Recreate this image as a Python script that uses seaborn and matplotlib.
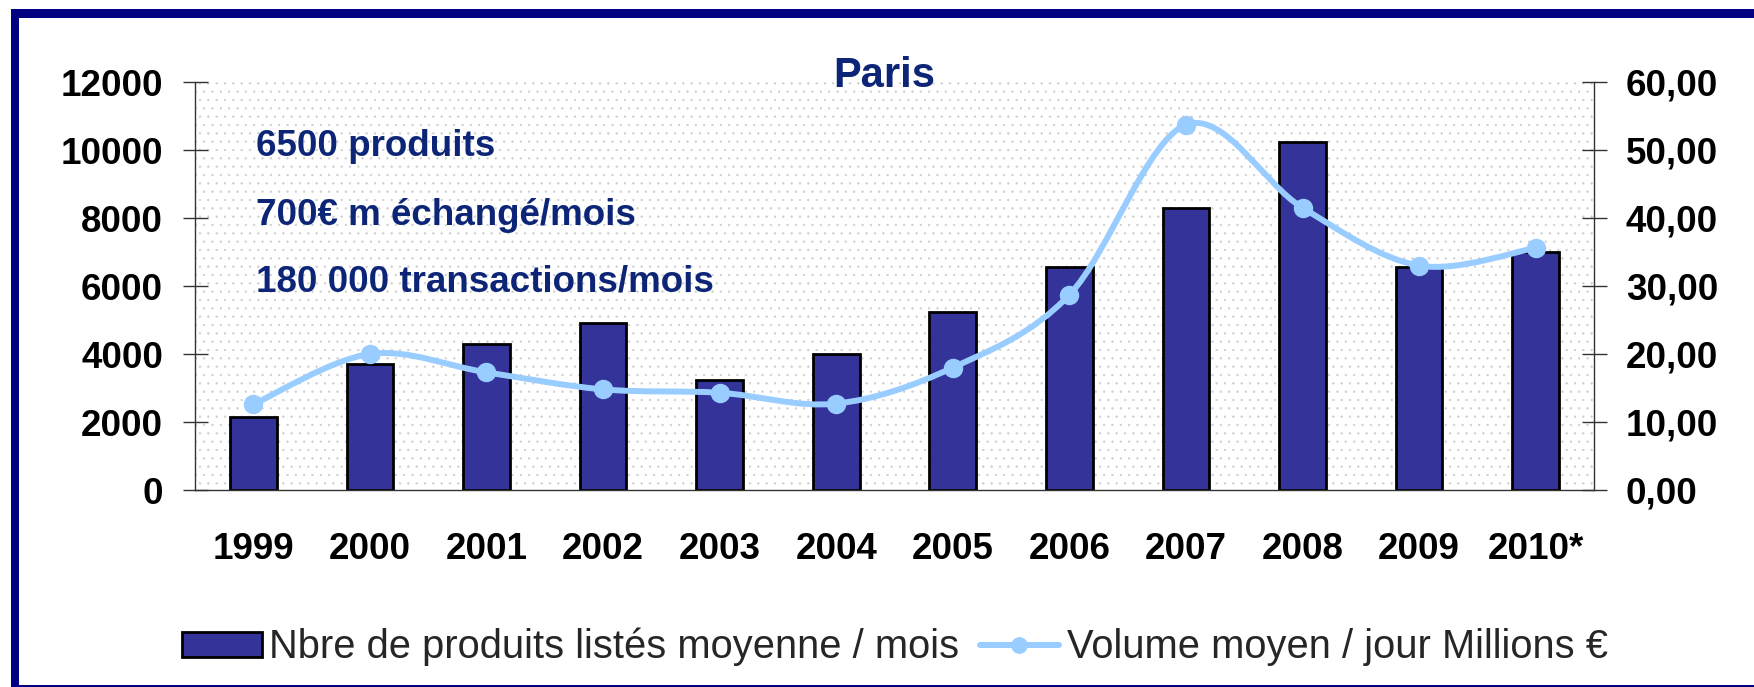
import numpy as np
import pandas as pd
import seaborn as sns
import matplotlib.pyplot as plt
from matplotlib.path import Path
from matplotlib.patches import PathPatch, Rectangle, Patch
from matplotlib.lines import Line2D

# données
annees = ['1999', '2000', '2001', '2002', '2003', '2004', '2005', '2006', '2007', '2008', '2009', '2010*']
produits = [2150, 3700, 4300, 4900, 3250, 4000, 5250, 6550, 8300, 10250, 6550, 7000]
volume = [12.6, 20.0, 17.3, 14.8, 14.3, 12.7, 18.0, 28.7, 53.7, 41.5, 33.0, 35.6]
infos = ['6500 produits', '700€ m échangé/mois', '180 000 transactions/mois']

sns.set_style('white')
plt.rcParams['font.family'] = ['Liberation Sans', 'DejaVu Sans']
plt.rcParams['font.weight'] = 'bold'
plt.rcParams['hatch.linewidth'] = 0.4

navy = '#0c2577'
W, H = 1754, 687
fig = plt.figure(figsize=(W / 100, H / 100), dpi=100)
ax = fig.add_axes([195 / W, 1 - 490 / H, (1594 - 195) / W, (490 - 82) / H])

# fond pointillé
ax.patch.set_facecolor('white')
ax.patch.set_hatch('..')
ax.patch.set_edgecolor('#cccccc')
ax.patch.set_linewidth(0)

df = pd.DataFrame({'annee': annees, 'produits': produits})
sns.barplot(data=df, x='annee', y='produits', color='#333399', saturation=1,
            edgecolor='black', linewidth=2, width=0.4, errorbar=None, ax=ax)
ax.set_xlim(-0.5, 11.5)
ax.set_ylim(0, 12000)
ax.set_yticks(range(0, 12001, 2000))
ax.set_xlabel('')
ax.set_ylabel('')
ax.set_xticks(range(12))
ax.set_xticklabels(annees)
ax.set_xticks(np.arange(-0.5, 12, 1), minor=True)
ax.tick_params(axis='x', which='major', length=0, labelsize=26.5, pad=30, labelcolor='black')
ax.tick_params(axis='x', which='minor', direction='inout', length=16, width=1, color='#333333')
ax.tick_params(axis='y', direction='inout', length=18, width=1, color='#333333',
               labelsize=26.5, pad=14, labelcolor='black')
for s in ['top', 'right']:
    ax.spines[s].set_visible(False)
for s in ['left', 'bottom']:
    ax.spines[s].set_color('#333333')
    ax.spines[s].set_linewidth(1)

# axe secondaire : volume
ax2 = ax.twinx()
x = np.arange(len(volume))
pts = np.column_stack([x, volume])
verts = [pts[0]]
codes = [Path.MOVETO]
n = len(pts)
for i in range(n - 1):
    p_prev = pts[max(i - 1, 0)]
    p0 = pts[i]
    p1 = pts[i + 1]
    p_next = pts[min(i + 2, n - 1)]
    verts += [p0 + (p1 - p_prev) / 6, p1 - (p_next - p0) / 6, p1]
    codes += [Path.CURVE4] * 3
ax2.add_patch(PathPatch(Path(verts, codes), facecolor='none', edgecolor='#99CCFF',
                        lw=4.3, capstyle='round', joinstyle='round', zorder=3))
ax2.plot(x, volume, linestyle='none', marker='o', ms=13, color='#99CCFF', zorder=4)
ax2.set_xlim(-0.5, 11.5)
ax2.set_ylim(0, 60)
ax2.set_yticks(range(0, 61, 10))
ax2.set_yticklabels([f'{v},00' for v in range(0, 61, 10)])
ax2.tick_params(axis='y', direction='inout', length=18, width=1, color='#333333',
                labelsize=26.5, pad=14, labelcolor='black')
for s in ['top', 'left', 'bottom']:
    ax2.spines[s].set_visible(False)
ax2.spines['right'].set_color('#333333')
ax2.spines['right'].set_linewidth(1)

# titre et textes
fig.text(884 / W, 1 - 87 / H, 'Paris', ha='center', va='baseline', fontsize=30, color=navy)
for txt, yb in zip(infos, [156, 225, 292]):
    fig.text(256 / W, 1 - yb / H, txt, ha='left', va='baseline', fontsize=26.5, color=navy)

# légende
handles = [Patch(facecolor='#333399', edgecolor='black', lw=2),
           Line2D([], [], color='#99CCFF', lw=4.3, marker='o', ms=11)]
fig.legend(handles, ['Nbre de produits listés moyenne / mois', 'Volume moyen / jour Millions €'],
           loc='center', bbox_to_anchor=(895 / W, 1 - 647 / H), ncol=2, frameon=False,
           prop={'weight': 'normal', 'size': 28.7}, handlelength=2.0, handleheight=0.6,
           handletextpad=0.2, columnspacing=0.5)

# cadre
fig.add_artist(Rectangle((11 / W, 1 - 18 / H), 1, 9 / H, transform=fig.transFigure,
                         facecolor='#000080', edgecolor='none'))
fig.add_artist(Rectangle((11 / W, 0), 8 / W, 1 - 9 / H, transform=fig.transFigure,
                         facecolor='#000080', edgecolor='none'))
fig.add_artist(Rectangle((11 / W, 0), 1, 2 / H, transform=fig.transFigure,
                         facecolor='#000080', edgecolor='none'))

fig.savefig('out.png', dpi=100)
